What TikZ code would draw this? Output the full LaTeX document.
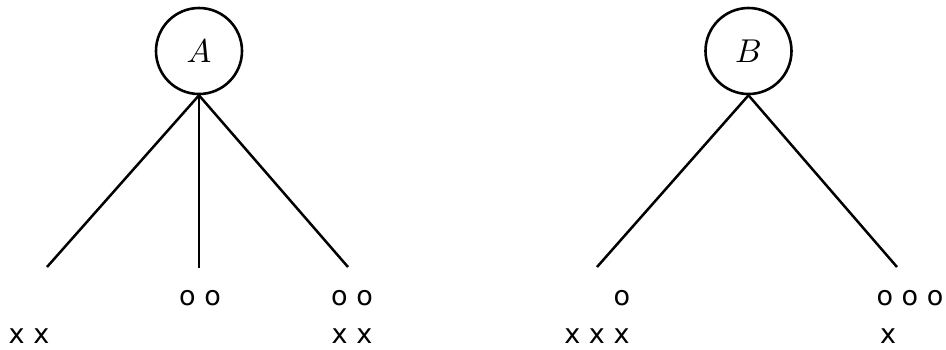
\documentclass[tikz,border=0pt]{standalone}
\usepackage{fontspec}
\newfontfamily\lblfont{DejaVu Sans}
\begin{document}
\begin{tikzpicture}[x=1pt,y=-1pt,
  root/.style={circle,draw,line width=2.6pt,minimum size=86pt,inner sep=0pt},
  edge/.style={line width=2.5pt},
  lbl/.style={anchor=base,inner sep=0pt,font=\lblfont\fontsize{27}{31}\selectfont}]
\useasboundingbox (0,0) rectangle (946,349);
\node[root] (A) at (199,51) {\scalebox{3.3}{$A$}};
\node[root] (B) at (748.5,51) {\scalebox{3.3}{$B$}};
\coordinate (a1) at (47,267);
\coordinate (a2) at (199,268);
\coordinate (a3) at (348,267);
\coordinate (b1) at (597,267);
\coordinate (b2) at (897,267);
\draw[edge] (A.south) -- (a1);
\draw[edge] (A.south) -- (a2);
\draw[edge] (A.south) -- (a3);
\draw[edge] (B.south) -- (b1);
\draw[edge] (B.south) -- (b2);
\node[lbl] (t1) at (200,305) {o o};
\node[lbl] (t2) at (352,305) {o o};
\node[lbl] (t3) at (29,343) {x x};
\node[lbl] (t4) at (352,343) {x x};
\node[lbl] (t5) at (622,305) {o};
\node[lbl] (t6) at (597,343) {x x x};
\node[lbl] (t7) at (910,305) {o o o};
\node[lbl] (t8) at (888,343) {x};
\end{tikzpicture}
\end{document}
